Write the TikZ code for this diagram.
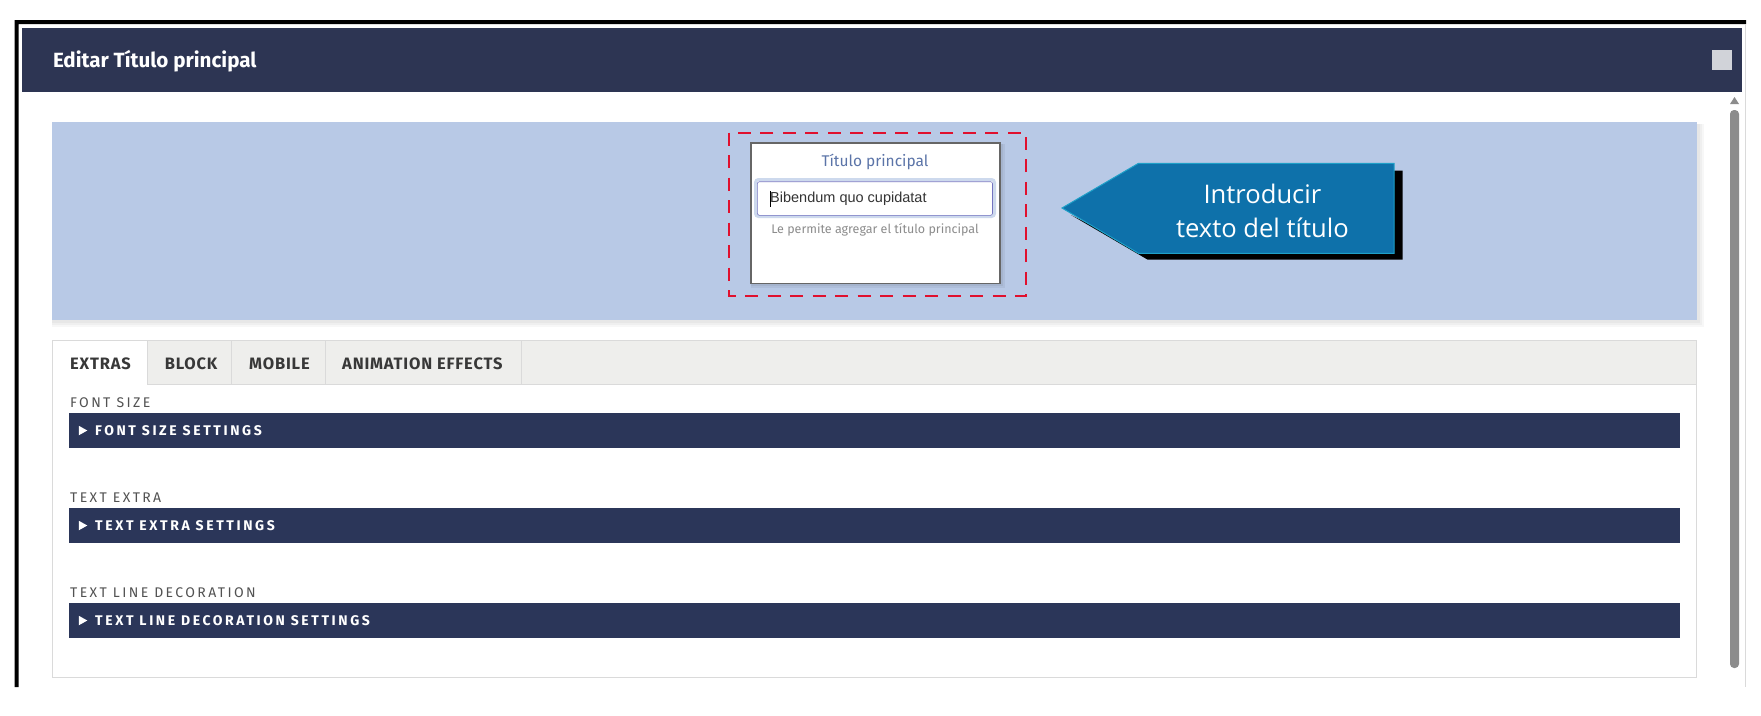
\documentclass[tikz,border=0pt]{standalone}
\usepackage{fontspec}
\setmainfont{Fira Sans}
\newfontfamily\inputfont{Liberation Sans}
\newfontfamily\calloutfont{Open Sans}
\newfontfamily\tabfont[LetterSpace=5]{Fira Sans}
\newfontfamily\spacedfont[LetterSpace=17]{Fira Sans}
\newfontfamily\widefont[LetterSpace=18.5]{Fira Sans}
\usepackage{xcolor}
\definecolor{headerblue}{HTML}{2D3553}
\definecolor{barblue}{HTML}{2B3659}
\definecolor{panelblue}{HTML}{B8C9E6}
\definecolor{calloutblue}{HTML}{0E71AA}
\definecolor{calloutedge}{HTML}{1EA0C8}
\definecolor{dashred}{HTML}{E0102E}
\definecolor{tabgray}{HTML}{EEEEEC}
\definecolor{edgegray}{HTML}{DADADA}
\definecolor{scrollgray}{HTML}{8C8C8C}
\definecolor{cardblue}{HTML}{5B74A8}
\tikzset{
  txt/.style={inner sep=0pt,anchor=west},
  tablabel/.style={txt,text=black!78,font=\fontsize{16.5}{19}\selectfont\tabfont\bfseries},
  fieldlabel/.style={txt,text=black!68,font=\fontsize{14}{17}\selectfont\spacedfont},
  bartext/.style={txt,text=white,font=\fontsize{14}{17}\selectfont\widefont\bfseries},
  settingsbar/.style={fill=barblue},
  tabcell/.style={fill=tabgray,draw=edgegray,line width=1pt}
}

\begin{document}
\begin{tikzpicture}[x=1pt,y=-1pt]
	\fill [white] (0,0) rectangle (1761,715);
	\useasboundingbox (0,0) rectangle (1761,715);

	% window frame
	\fill (14.5,687) rectangle (18.5,20) -- (1746,20) -- (1746,24) -- (14.5,24);
	\draw [edgegray,line width=1pt] (1745.5,24) -- (1745.5,687);

	% header
	\fill [headerblue] (21.8,28) rectangle (1742,92);
	\node [txt,text=white,font=\fontsize{20.6}{24}\selectfont\bfseries] (title) at (52.8,61) {Editar Título principal};
	\fill [white!78!headerblue] (1712,50) rectangle (1732,70);

	% scroll bar
	\fill [scrollgray] (1730,104) -- (1734.5,97) -- (1739,104) -- cycle;
	\fill [scrollgray,rounded corners=4pt] (1730,110) rectangle (1739,668);

	% blue panel
	\foreach \s in {7,5,3}
		\fill [black,opacity=.03] (52,124) rectangle (1697+\s,320+\s);
	\fill [panelblue] (52,122) rectangle (1697,320);

	% selected field
	\draw [dashred,line width=2pt,dash pattern=on 13pt off 9.5pt] (728.5,132.7) rectangle (1026.4,296);
	\foreach \s in {5,3}
		\fill [black,opacity=.05] (751,144) rectangle (999.9+\s,283.3+\s);
	\draw [black!60!white,fill=white,line width=1.6pt] (751,142.7) rectangle (999.9,283.3);
	\node [text=cardblue,font=\fontsize{15.5}{18}\selectfont,inner sep=0pt] (cardlabel) at (875,162) {Título principal};
	\draw [panelblue!70!white,line width=3pt,rounded corners=3pt,fill=white] (755.5,179.5) rectangle (994.5,216.5);
	\draw [white!40!blue!50!gray,line width=.6pt,rounded corners=2pt] (757.4,181.7) rectangle (992.5,215.3);
	\node [txt,text=black!80,font=\fontsize{14.5}{17}\selectfont\inputfont] (cardinput) at (770,199) {Bibendum quo cupidatat};
	\draw [black,line width=.8pt] (770,191) -- (770,207);
	\node [text=black!45,font=\fontsize{12.5}{15}\selectfont,inner sep=0pt] (cardhelp) at (875,230) {Le permite agregar el título principal};

	% callout
	\fill [black] (1071,215) -- (1147.7,259.7) -- (1402.5,259.7) -- (1402.5,170.7) -- (1390,170.7) -- (1390,250) -- (1140,250) -- cycle;
	\draw [calloutedge,fill=calloutblue,line width=1pt] (1062,208) -- (1138.5,163.3) -- (1394,163.3) -- (1394,253.3) -- (1138.5,253.3) -- cycle;
	\node [text=white,font=\fontsize{25.6}{30}\selectfont\calloutfont,inner sep=0pt] (calloutone) at (1262.4,194) {Introducir};
	\node [text=white,font=\fontsize{25.6}{30}\selectfont\calloutfont,inner sep=0pt] (callouttwo) at (1262.4,228) {texto del título};

	% tab box
	\draw [edgegray,line width=1pt] (52.4,340.7) rectangle (1696.7,677.3);
	\fill [tabcell] (147.3,340.7) rectangle (1696.7,384.3);
	\draw [edgegray,line width=1pt] (231.5,340.7) -- (231.5,384.3);
	\draw [edgegray,line width=1pt] (325.3,340.7) -- (325.3,384.3);
	\draw [edgegray,line width=1pt] (521.6,340.7) -- (521.6,384.3);
	\node [tablabel] (tabextras) at (70,364.2) {EXTRAS};
	\node [tablabel] (tabblock) at (164.6,364.2) {BLOCK};
	\node [tablabel] (tabmobile) at (249,364.2) {MOBILE};
	\node [tablabel] (tabanim) at (342,364.2) {ANIMATION EFFECTS};

	% settings rows
	\foreach \y/\lab/\name in {413.3/FONT SIZE/fontsize,508.3/TEXT EXTRA/textextra,603.3/TEXT LINE DECORATION/textline} {
		\node [fieldlabel] (\name label) at (70,\y-10.5) {\lab};
		\fill [settingsbar] (69,\y) rectangle (1680,\y+34.5);
		\fill [white] (78.8,\y+12.5) -- (87.3,\y+17.2) -- (78.8,\y+22) -- cycle;
		\node [bartext] (\name bar) at (95,\y+17.2) {\lab{} SETTINGS};
	}
\end{tikzpicture}
\end{document}
